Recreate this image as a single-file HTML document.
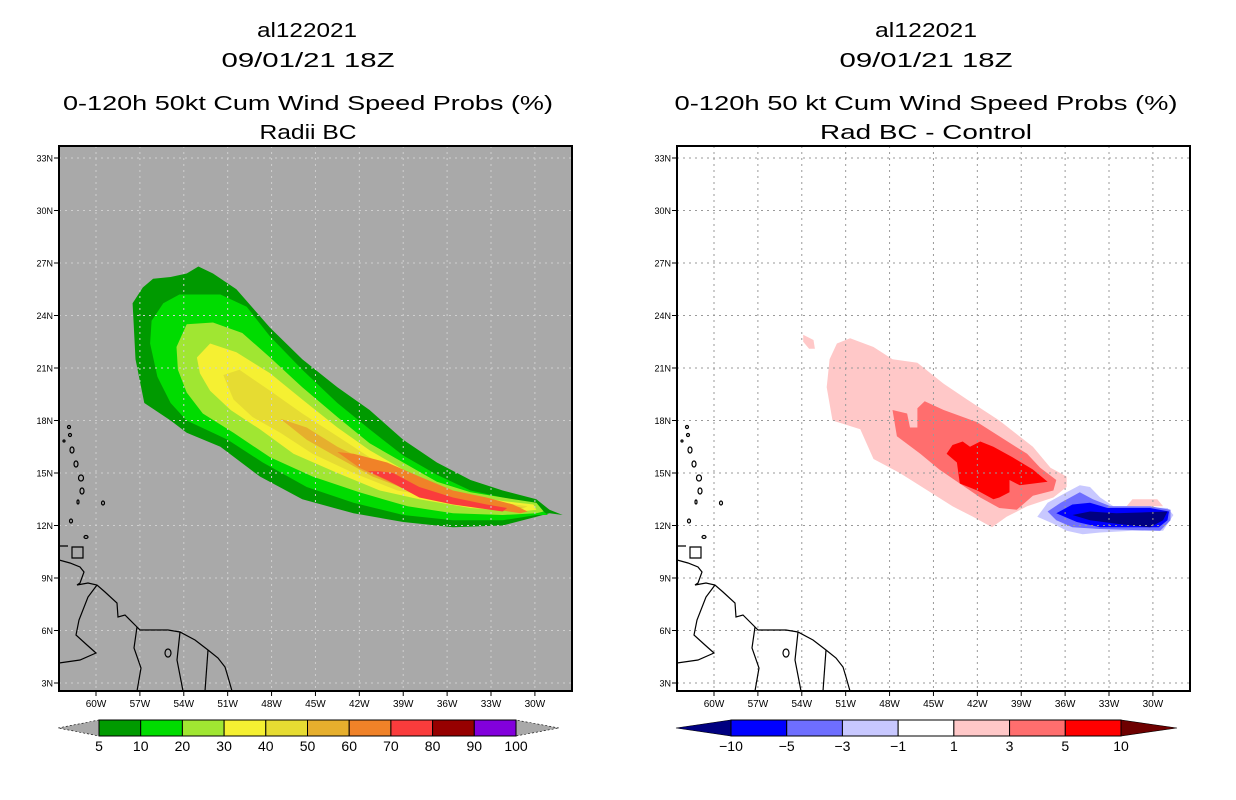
<!DOCTYPE html>
<html><head><meta charset="utf-8"><style>
html,body{margin:0;padding:0;background:#fff;}
svg{display:block;font-family:"Liberation Sans",sans-serif;}
</style></head><body>
<svg id="root" width="1236" height="800" viewBox="0 0 1236 800" xmlns="http://www.w3.org/2000/svg">
<defs>
<clipPath id="clipL"><rect x="59" y="146" width="513" height="545"/></clipPath>
<clipPath id="clipR"><rect x="677" y="146" width="513" height="545"/></clipPath>
</defs>
<g font-size="20" text-anchor="middle" fill="#000">
<text x="307" y="37" textLength="100" lengthAdjust="spacingAndGlyphs">al122021</text>
<text x="308" y="67" textLength="173" lengthAdjust="spacingAndGlyphs">09/01/21 18Z</text>
<text x="308" y="110" textLength="490" lengthAdjust="spacingAndGlyphs">0-120h 50kt Cum Wind Speed Probs (%)</text>
<text x="308" y="139" textLength="97" lengthAdjust="spacingAndGlyphs">Radii BC</text>
</g>
<g font-size="20" text-anchor="middle" fill="#000">
<text x="926" y="37" textLength="102" lengthAdjust="spacingAndGlyphs">al122021</text>
<text x="926" y="67" textLength="173" lengthAdjust="spacingAndGlyphs">09/01/21 18Z</text>
<text x="926" y="110" textLength="503" lengthAdjust="spacingAndGlyphs">0-120h 50 kt Cum Wind Speed Probs (%)</text>
<text x="926" y="139" textLength="212" lengthAdjust="spacingAndGlyphs">Rad BC - Control</text>
</g>
<g id="leftMap"></g>
<g id="rightMap"></g>
<g id="cbars"></g>
</svg>
<script>
// ---- axis data ----
const lonTicks = [60,57,54,51,48,45,42,39,36,33,30];
const latTicks = [33,30,27,24,21,18,15,12,9,6,3];
// ---- left panel contour levels (outer to inner), polygons in [lonW, latN] ----
const probLevels = [5,10,20,30,40,50,60,70,80,90,100];
const probColors = ["#009a00","#00dc00","#a0e632","#f5f032","#e6dc32","#e6af2d","#f08228","#fa3c3c","#960000","#8200dc"];
const prob5 = [[57.5,24.7],[57.3,21.5],[56.7,19.0],[54.9,18.0],[53.8,17.3],[51.5,16.5],[48.8,14.8],[45.9,13.5],[42.4,12.7],[39.0,12.2],[35.6,11.9],[32.2,12.0],[29.9,12.5],[29.0,12.7],[28.1,12.6],[29.0,12.9],[29.9,13.5],[32.2,14.0],[34.4,14.6],[36.7,15.6],[39.0,16.9],[41.3,18.6],[43.5,19.9],[45.9,21.5],[48.1,23.3],[50.4,25.5],[52.0,26.4],[53.0,26.8],[53.8,26.4],[54.9,26.2],[56.1,26.1],[56.8,25.6]];
const prob10 = [[56.2,23.7],[56.3,22.4],[55.8,20.5],[54.9,19.0],[53.8,18.0],[51.0,16.9],[48.6,15.6],[45.6,14.2],[42.4,13.3],[39.0,12.6],[35.6,12.3],[32.2,12.3],[29.9,12.6],[29.1,12.6],[29.9,13.1],[32.2,13.6],[34.4,14.0],[36.7,14.9],[39.0,16.0],[41.3,17.5],[43.5,19.0],[45.9,20.9],[48.1,22.8],[49.7,24.5],[51.5,25.2],[54.3,25.2],[55.4,24.7]];
const prob20 = [[54.5,22.2],[54.4,20.9],[53.8,19.6],[52.7,18.4],[50.6,17.3],[48.1,15.9],[45.2,14.8],[42.0,13.9],[38.7,13.1],[35.6,12.7],[32.2,12.6],[29.9,12.7],[29.4,12.8],[29.9,13.3],[32.2,13.6],[34.4,13.9],[36.7,14.5],[39.0,15.6],[41.3,16.7],[43.5,18.2],[45.9,19.9],[48.1,21.6],[50.0,23.0],[52.0,23.6],[53.8,23.5]];
const prob30 = [[53.1,21.6],[52.9,20.7],[52.2,19.7],[50.8,18.6],[48.8,17.5],[46.5,16.1],[43.5,15.0],[40.6,14.0],[37.9,13.5],[34.4,13.0],[31.0,12.8],[29.9,12.9],[30.1,13.2],[32.2,13.4],[34.4,13.7],[36.7,14.2],[39.0,15.2],[41.3,16.3],[43.5,17.6],[45.9,19.2],[48.1,20.7],[50.4,21.9],[52.2,22.4]];
const prob40 = [[51.3,20.6],[50.6,19.2],[49.3,18.2],[47.4,17.3],[45.2,16.1],[42.4,15.0],[39.4,14.0],[36.7,13.6],[33.3,13.1],[31.0,12.9],[30.5,13.1],[32.2,13.3],[34.4,13.6],[36.7,14.0],[39.0,14.8],[41.3,15.9],[43.5,17.1],[45.9,18.4],[48.1,19.7],[50.2,20.9]];
const prob50 = [[47.4,18.1],[45.6,16.9],[43.5,15.9],[41.1,14.8],[38.3,13.9],[35.6,13.3],[32.2,13.0],[30.8,13.0],[32.2,13.3],[34.4,13.6],[36.7,14.0],[39.0,14.8],[41.3,15.6],[43.5,16.5],[45.6,17.6]];
const prob60 = [[43.5,16.2],[42.0,15.3],[39.7,14.4],[36.7,13.5],[33.3,13.0],[31.0,12.7],[30.5,12.8],[31.5,13.2],[33.3,13.6],[35.6,14.0],[37.9,14.8],[40.1,15.6],[42.4,16.1]];
const prob70 = [[41.4,15.1],[40.1,14.6],[37.9,13.6],[35.6,13.2],[32.2,12.8],[31.9,13.0],[33.3,13.2],[35.6,13.6],[37.9,14.2],[39.7,15.0],[40.6,15.1]];
// ---- right panel difference contours ----
const diffLevels = [-10,-5,-3,-1,1,3,5,10];
const diffColors = ["#000080","#0000ff","#6e6eff","#c8c8ff","#ffffff","#ffc8c8","#ff6e6e","#ff0000","#6e0000"];
const diffPos1 = [[52.3,19.9],[51.9,18.0],[50.0,17.5],[49.1,15.8],[47.3,15.0],[45.4,14.0],[43.7,13.1],[42.3,12.5],[41.0,11.9],[40.0,12.5],[38.6,13.1],[36.8,13.6],[35.9,14.2],[35.9,14.8],[37.0,15.3],[38.2,16.5],[40.5,18.0],[42.7,19.2],[44.3,20.1],[46.1,21.3],[47.8,21.5],[49.1,22.2],[50.7,22.7],[51.6,22.4],[52.1,21.5]];
const diffPos1b = [[53.9,22.9],[53.2,22.6],[53.1,22.1],[53.5,22.1],[53.9,22.5]];
const diffPos1c = [[31.8,13.1],[31.4,13.5],[29.7,13.5],[29.3,13.1]];
const diffPos3 = [[47.8,18.6],[47.5,17.1],[45.9,16.1],[44.6,15.2],[43.2,14.4],[41.8,13.6],[40.5,13.0],[39.3,12.9],[38.2,13.7],[36.8,14.0],[36.6,14.6],[37.7,15.3],[38.6,16.1],[40.5,17.1],[42.0,17.9],[44.3,18.6],[45.6,19.1],[46.1,18.7],[46.1,17.6],[46.6,17.6],[46.8,18.4]];
const diffPos5 = [[44.1,16.1],[43.4,15.6],[43.2,14.4],[42.0,14.0],[40.9,13.5],[40.5,13.6],[39.8,13.9],[39.8,14.6],[39.1,14.3],[37.2,14.5],[38.2,15.2],[39.6,15.9],[40.9,16.5],[41.8,16.8],[42.5,16.5],[43.0,16.8],[43.7,16.6]];
const diffNeg1 = [[37.9,12.5],[37.2,13.3],[35.9,13.9],[35.0,14.3],[34.3,14.2],[33.6,13.6],[32.7,13.1],[31.4,13.1],[29.0,13.0],[28.6,12.6],[29.3,11.7],[31.4,11.7],[33.6,11.6],[34.8,11.5],[35.9,11.7],[36.8,12.1]];
const diffNeg3 = [[37.2,12.8],[36.3,13.3],[35.0,13.9],[34.1,13.5],[32.9,13.1],[30.2,13.1],[28.8,12.9],[28.8,12.3],[29.5,11.7],[33.6,11.8],[35.5,11.9],[36.6,12.3]];
const diffNeg5 = [[36.6,12.7],[35.5,13.2],[34.3,13.3],[33.1,13.0],[30.2,13.0],[28.9,12.8],[29.0,12.3],[29.6,11.9],[33.6,11.9],[35.2,12.2]];
const diffNeg10 = [[35.5,12.6],[34.3,12.8],[32.5,12.7],[29.0,12.8],[29.3,12.3],[30.2,11.9],[32.5,12.1],[34.3,12.3]];

const NS="http://www.w3.org/2000/svg";
function mk(tag, attrs, parent){const e=document.createElementNS(NS,tag);for(const k in attrs)e.setAttribute(k,attrs[k]);if(parent)parent.appendChild(e);return e;}
// axis functions
function xScale(lonW, off){return off + 96 + (60 - lonW) * 14.63;}
function yScale(lat){return 683 - (lat - 3) * 17.5;}
function polyPts(poly, off){return poly.map(p => xScale(p[0],off).toFixed(1)+","+yScale(p[1]).toFixed(1)).join(" ");}

// coastline paths in panel-local pixels (basemap)
const coastPaths = [
 "M59,560 L70,563 L80,567 L84,572 L80,583 L77,585 L88,583 L97,585 L105,592 L117,603 L118,617 L125,615 L137,627 L140,630 L155,630 L168,630 L180,632 L195,640 L208,650 L218,658 L225,667 L228,677 L232,691",
 "M137,627 L134,648 L141,668 L137,691",
 "M180,632 L177,660 L183,691",
 "M208,650 L205,691",
 "M97,585 L88,597 L79,620 L76,635 L87,645 L96,653 L80,660 L59,663",
 "M59,546 L68,546 M72,547 L83,547 L83,558 L72,558 Z"
];
const islands = [[69,427,1.5,1.5],[70,435,1.5,1.5],[64,441,1,1],[72,450,2,3],[76,464,2,3],[81,478,2.5,3],[82,491,2,3],[103,503,1.5,2],[78,502,1,2],[71,521,1.5,2],[86,537,2,1.5],[168,653,3,4]];

function drawPanel(g, off, bg, clipId, isLeft){
  mk("rect",{x:59+off,y:146,width:513,height:545,fill:bg,},g);
  const cg = mk("g",{"clip-path":"url(#"+clipId+")"},g);
  if(isLeft){
    const polys=[prob5,prob10,prob20,prob30,prob40,prob50,prob60,prob70];
    polys.forEach((p,i)=>{
      const el=mk("polygon",{points:polyPts(p,off),fill:probColors[i]},cg);
      
      
    });
  } else {
    const polys=[[diffPos1,5],[diffPos1b,5],[diffPos1c,5],[diffPos3,6],[diffPos5,7],[diffNeg1,3],[diffNeg3,2],[diffNeg5,1],[diffNeg10,0]];
    polys.forEach((pc,i)=>{
      const el=mk("polygon",{points:polyPts(pc[0],off),fill:diffColors[pc[1]]},cg);
      
      
    });
  }
  // grid
  const gridColor = isLeft ? "#cfcfcf" : "#9a9a9a";
  lonTicks.forEach(l=>{const x=xScale(l,off);const el=mk("line",{x1:x,y1:146,x2:x,y2:691,stroke:gridColor,"stroke-width":1,"stroke-dasharray":"2,4"},cg);});
  latTicks.forEach(l=>{const y=yScale(l);const el=mk("line",{x1:59+off,y1:y,x2:572+off,y2:y,stroke:gridColor,"stroke-width":1,"stroke-dasharray":"2,4"},cg);});
  // coast
  const coast=mk("g",{transform:"translate("+off+",0)",fill:"none",stroke:"#000","stroke-width":1.2},cg);
  
  
  coastPaths.forEach(d=>mk("path",{d:d},coast));
  islands.forEach(c=>mk("ellipse",{cx:c[0],cy:c[1],rx:c[2],ry:c[3]},coast));
  // frame
  const fr=mk("rect",{x:59+off,y:146,width:513,height:545,fill:"none",stroke:"#000","stroke-width":2},g);
  
  
  // ticks & labels
  lonTicks.forEach(l=>{
    const x=xScale(l,off);
    mk("line",{x1:x,y1:691,x2:x,y2:696,stroke:"#000","stroke-width":1},g);
    const t=mk("text",{x:x,y:707,"font-size":10,"text-anchor":"middle"},g);
    t.textContent=l+"W";
    
    
  });
  latTicks.forEach(l=>{
    const y=yScale(l);
    mk("line",{x1:54+off,y1:y,x2:59+off,y2:y,stroke:"#000","stroke-width":1},g);
    const t=mk("text",{x:53+off,y:y+3.5,"font-size":9,"text-anchor":"end"},g);
    t.textContent=l+"N";
    
    
  });
}
drawPanel(document.getElementById("leftMap"),0,"#a9a9a9","clipL",true);
drawPanel(document.getElementById("rightMap"),618,"#ffffff","clipR",false);

// colorbars
function colorbar(x0,x1,tipL,tipR,y0,y1,colors,labels,leftTri,rightTri,name){
  const g=mk("g",{},document.getElementById("cbars"));
  
  
  const n=colors.length, w=(x1-x0)/n, ym=(y0+y1)/2;
  mk("polygon",{points:`${tipL},${ym} ${x0},${y0} ${x0},${y1}`,fill:leftTri,stroke:"#000","stroke-width":0.6,"stroke-dasharray":leftTri=="#a9a9a9"?"2,2":"none"},g);
  mk("polygon",{points:`${tipR},${ym} ${x1},${y0} ${x1},${y1}`,fill:rightTri,stroke:"#000","stroke-width":0.6,"stroke-dasharray":rightTri=="#a9a9a9"?"2,2":"none"},g);
  colors.forEach((c,i)=>{const r=mk("rect",{x:x0+i*w,y:y0,width:w,height:y1-y0,fill:c,stroke:"#000","stroke-width":1},g);});
  labels.forEach((l,i)=>{const t=mk("text",{x:x0+i*w,y:y1+15,"font-size":14,"text-anchor":"middle"},g);t.textContent=l;});
}
colorbar(99,516,58,559,720,736,probColors,probLevels.map(String),"#a9a9a9","#a9a9a9","prob-colorbar");
colorbar(731,1121,676,1177,720,736,diffColors.slice(1,8),diffLevels.map(v=>v<0?"\u2212"+(-v):String(v)),diffColors[0],diffColors[8],"diff-colorbar");
</script>
</body></html>
